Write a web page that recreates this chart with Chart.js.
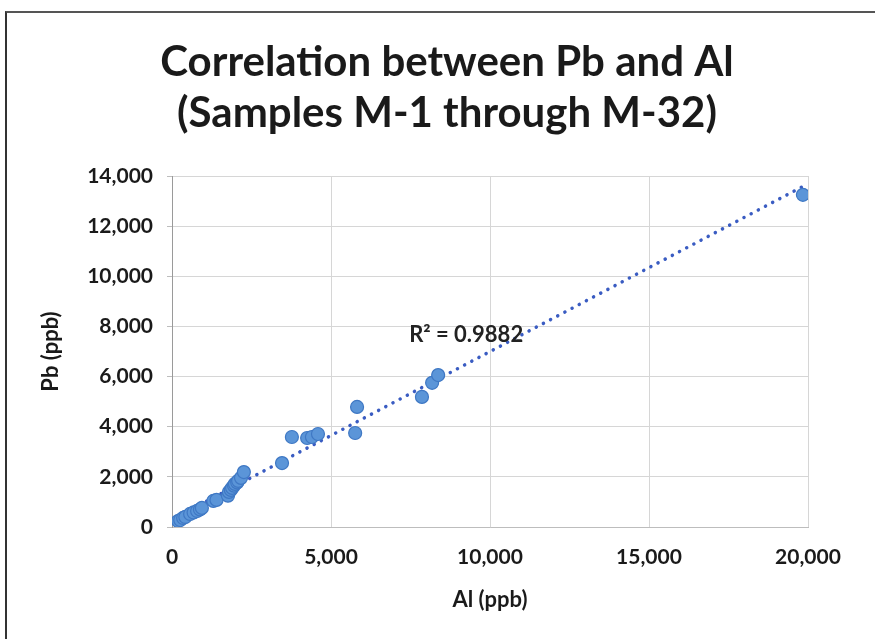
<!DOCTYPE html>
<html>
<head>
<meta charset="utf-8">
<script src="https://cdn.jsdelivr.net/npm/chart.js@4"></script>
<style>
  html, body { margin: 0; padding: 0; background: #fff; }
  #wrap { position: relative; width: 875px; height: 639px; overflow: hidden; }
  #frame { position: absolute; left: 5px; top: 11px; width: 900px; height: 700px; border-left: 2px solid #333; border-top: 2px solid #555; }
  #holder { position: absolute; left: 0; top: 0; width: 875px; height: 639px; }
</style>
</head>
<body>
<div id="wrap">
  <div id="frame"></div>
  <div id="holder"><canvas id="chart"></canvas></div>
</div>
<script>
// Al vs Pb, samples M-1 .. M-32 (ppb)
const alValues = [190, 260, 350, 420, 570, 680, 790, 880, 940, 1300, 1400, 1760, 1790, 1850, 1890, 1950,
  1980, 2050, 2080, 2170, 2260, 3460, 3770, 4250, 4400, 4590, 5760, 5820, 7860, 8180, 8370, 19840];
const pbValues = [240, 280, 360, 400, 520, 580, 640, 700, 760, 1040, 1080, 1250, 1400, 1480, 1560, 1650,
  1720, 1780, 1840, 1960, 2190, 2550, 3590, 3550, 3590, 3710, 3750, 4790, 5190, 5750, 6060, 13250];

const titleLines = ["Correlation between Pb and Al", "(Samples M-1 through M-32)"];
const r2Label = "R² = 0.9882";

const points = alValues.map((x, i) => ({ x: x, y: pbValues[i] }));

// linear least squares trendline
function fitLine(xs, ys) {
  const n = xs.length;
  let sx = 0, sy = 0, sxx = 0, sxy = 0;
  for (let i = 0; i < n; i++) { sx += xs[i]; sy += ys[i]; sxx += xs[i] * xs[i]; sxy += xs[i] * ys[i]; }
  const m = (n * sxy - sx * sy) / (n * sxx - sx * sx);
  const b = (sy - m * sx) / n;
  return { m, b };
}
const fit = fitLine(alValues, pbValues);
const xMin = Math.min(...alValues), xMax = Math.max(...alValues);
const trend = [{ x: xMin, y: fit.m * xMin + fit.b }, { x: xMax, y: fit.m * xMax + fit.b }];

// two-line title, centred on the page rather than the plot
const titlePlugin = {
  id: 'bigTitle',
  afterDraw(chart) {
    const { ctx } = chart;
    ctx.save();
    ctx.font = 'bold 42px Lato';
    ctx.fillStyle = '#1a1a1a';
    ctx.textAlign = 'center';
    ctx.textBaseline = 'middle';
    ctx.fillText(titleLines[0], 447, 62);
    ctx.fillText(titleLines[1], 447, 113);
    ctx.restore();
  }
};

const r2Plugin = {
  id: 'r2',
  afterDatasetsDraw(chart) {
    const { ctx, scales } = chart;
    ctx.save();
    ctx.font = 'bold 22px Lato';
    ctx.fillStyle = '#222';
    ctx.textAlign = 'center';
    ctx.textBaseline = 'middle';
    ctx.fillText(r2Label, scales.x.getPixelForValue(9250), scales.y.getPixelForValue(7650));
    ctx.restore();
  }
};

const tickFont = { family: 'Lato', size: 21, weight: 'bold' };
const axisFont = { family: 'Lato', size: 22, weight: 'bold' };

new Chart(document.getElementById('chart'), {
  type: 'scatter',
  data: {
    datasets: [
      {
        label: 'Trend',
        type: 'line',
        data: trend,
        borderColor: '#3a5cc2',
        borderWidth: 3.5,
        borderDash: [0.1, 8],
        borderCapStyle: 'round',
        pointRadius: 0,
        fill: false,
        order: 2
      },
      {
        label: 'Pb vs Al',
        data: points,
        backgroundColor: '#5b95d8',
        borderColor: '#3f78c4',
        borderWidth: 1.2,
        pointRadius: 6.5,
        order: 1
      }
    ]
  },
  options: {
    responsive: true,
    maintainAspectRatio: false,
    animation: false,
    layout: { padding: { left: 34, right: 67, top: 176, bottom: 22 } },
    plugins: {
      legend: { display: false },
      tooltip: { enabled: false },
      title: { display: false }
    },
    scales: {
      x: {
        type: 'linear',
        min: 0,
        max: 20000,
        afterFit: s => { s.height = 90; },
        ticks: {
          stepSize: 5000,
          color: '#1a1a1a',
          font: tickFont,
          padding: 18,
          maxRotation: 0,
          callback: v => v.toLocaleString('en-US')
        },
        grid: { color: '#d6d6d6', drawTicks: false },
        border: { color: '#bdbdbd' },
        title: {
          display: true,
          text: 'Al (ppb)',
          color: '#1a1a1a',
          font: axisFont,
          padding: { top: 10 }
        }
      },
      y: {
        type: 'linear',
        min: 0,
        max: 14000,
        afterFit: s => { s.width = 138; },
        ticks: {
          stepSize: 2000,
          color: '#1a1a1a',
          font: tickFont,
          padding: 14,
          callback: v => v.toLocaleString('en-US')
        },
        grid: { color: '#d6d6d6', tickLength: 5, tickColor: '#bdbdbd' },
        border: { color: '#9a9a9a' },
        title: {
          display: true,
          text: 'Pb (ppb)',
          color: '#1a1a1a',
          font: axisFont,
          padding: { bottom: 6 }
        }
      }
    }
  },
  plugins: [r2Plugin, titlePlugin]
});
</script>
</body>
</html>
